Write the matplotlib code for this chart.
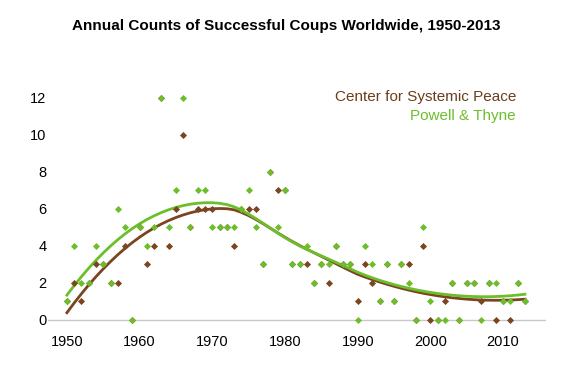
import numpy as np
import matplotlib
matplotlib.use("Agg")
import matplotlib.pyplot as plt

plt.rcParams['font.family'] = ['Liberation Sans', 'DejaVu Sans']

# Data
years = list(range(1950, 2014))
csp = [1, 2, 1, 2, 3, 3, 2, 2, 4, 0,
       5, 3, 4, 12, 4, 6, 10, 5, 6, 6,
       6, 5, 5, 4, 6, 6, 6, 3, 8, 7,
       7, 3, 3, 3, 2, 3, 2, 4, 3, 3,
       1, 3, 2, 1, 3, 1, 3, 3, 0, 4,
       0, 0, 1, 2, 0, 2, 2, 1, 2, 0,
       1, 0, 2, 1]
pt = [1, 4, 2, 2, 4, 3, 2, 6, 5, 0,
      5, 4, 5, 12, 5, 7, 12, 5, 7, 7,
      5, 5, 5, 5, 6, 7, 5, 3, 8, 5,
      7, 3, 3, 4, 2, 3, 3, 4, 3, 3,
      0, 4, 3, 1, 3, 1, 3, 2, 0, 5,
      1, 0, 0, 2, 0, 2, 2, 0, 2, 2,
      1, 1, 2, 1]

brown = '#7a4520'
green = '#6cbf2a'


def loess(x, y, frac=0.75, deg=2):
    # local polynomial fit with tricube weights
    x = np.asarray(x, float)
    y = np.asarray(y, float)
    n = len(x)
    k = int(np.ceil(frac * n))
    out = np.zeros(n)
    for i in range(n):
        d = np.abs(x - x[i])
        h = np.sort(d)[k - 1] * 1.0001
        w = np.clip(1 - (d / h) ** 3, 0, 1) ** 3
        X = np.vander(x - x[i], deg + 1)
        sw = np.sqrt(w)
        coef = np.linalg.lstsq(X * sw[:, None], y * sw, rcond=None)[0]
        out[i] = coef[-1]
    return out


fig = plt.figure(figsize=(5.7, 3.8), dpi=100)
ax = fig.add_axes([48 / 570, 0.1287, 498 / 570, 0.7108])

ax.plot(years, loess(years, csp), color=brown, lw=2, zorder=2)
ax.plot(years, loess(years, pt), color=green, lw=2, zorder=2)
ax.scatter(years, csp, marker='D', s=13, color=brown, linewidths=0, zorder=3)
ax.scatter(years, pt, marker='D', s=13, color=green, linewidths=0, zorder=4)

ax.axhline(0, color='#c8c8c8', lw=1, zorder=1)
ax.set_xlim(1947.4, 2015.9)
ax.set_ylim(-0.6, 14)
ax.set_yticks(range(0, 13, 2))
ax.set_xticks(range(1950, 2011, 10))
for s in ax.spines.values():
    s.set_visible(False)
ax.tick_params(length=0, labelsize=10.5, pad=3)
ax.tick_params(axis='y', pad=1)

ax.text(0.94, 0.865, 'Center for Systemic Peace', color='#6b3d1a', fontsize=11,
        ha='right', va='center', transform=ax.transAxes)
ax.text(0.94, 0.795, 'Powell & Thyne', color=green, fontsize=11,
        ha='right', va='center', transform=ax.transAxes)

fig.text(0.503, 1 - 25.7 / 380, 'Annual Counts of Successful Coups Worldwide, 1950-2013',
         ha='center', va='center', fontsize=11, fontweight='bold')

fig.savefig('out.png', dpi=100)
